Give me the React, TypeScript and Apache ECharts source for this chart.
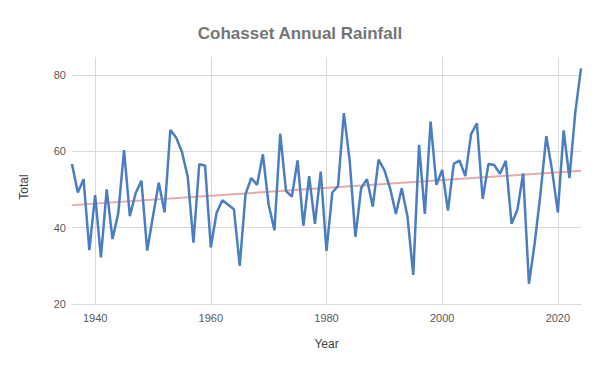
import React, { useEffect, useRef } from "react";
import * as echarts from "echarts";

const years: string[] = [];
for (let y = 1936; y <= 2024; y++) years.push(String(y));

const totals: number[] = [
  56.7, 49.2, 52.7, 34.1, 48.5, 32.2, 50.0, 37.0, 43.8, 60.3,
  43.0, 49.0, 52.3, 34.0, 43.0, 51.8, 44.0, 65.6, 63.6, 59.9,
  53.4, 36.1, 56.6, 56.3, 34.8, 43.9, 47.2, 46.0, 44.8, 30.0,
  48.8, 53.0, 51.2, 59.2, 46.0, 39.3, 64.6, 49.6, 48.1, 57.6,
  40.5, 53.5, 41.0, 54.7, 33.9, 49.2, 50.9, 70.0, 57.7, 37.6,
  50.4, 52.7, 45.5, 57.8, 55.1, 50.3, 43.6, 50.3, 42.9, 27.6,
  61.7, 43.6, 67.8, 51.2, 55.1, 44.5, 56.7, 57.6, 53.5, 64.5,
  67.3, 47.5, 56.7, 56.4, 54.1, 57.5, 41.0, 44.7, 54.2, 25.3,
  36.0, 49.0, 64.0, 55.0, 44.0, 65.5, 53.0, 70.0, 81.7,
];

const trendStart = 45.9;
const trendEnd = 54.9;
const trend: (number | null)[] = years.map((_, i) =>
  i === 0 ? trendStart : i === years.length - 1 ? trendEnd : null
);

const yTicks = [20, 40, 60, 80];

export default function App() {
  const ref = useRef<HTMLDivElement>(null);
  useEffect(() => {
    if (!ref.current) return;
    const chart = echarts.init(ref.current, undefined, { renderer: "svg" });
    const font = "'Liberation Sans', Arial, sans-serif";
    chart.setOption({
      animation: false,
      title: {
        text: "Cohasset Annual Rainfall",
        left: "center",
        top: 20,
        textStyle: { fontFamily: font, fontSize: 17, fontWeight: "bold", color: "#757575" },
      },
      grid: { left: 72, right: 19, top: 57, bottom: 67 },
      xAxis: {
        type: "category",
        data: years,
        boundaryGap: false,
        name: "Year",
        nameLocation: "middle",
        nameGap: 34,
        nameTextStyle: { fontFamily: font, fontSize: 12, color: "#404040" },
        axisLine: { show: true, lineStyle: { color: "#d9d9d9", width: 1 } },
        axisTick: { show: false },
        axisLabel: {
          interval: (_i: number, v: string) => Number(v) % 20 === 0,
          margin: 8,
          fontFamily: font,
          fontSize: 11,
          color: "#595959",
        },
        splitLine: {
          show: true,
          interval: (_i: number, v: string) => Number(v) % 20 === 0,
          lineStyle: { color: "#d9d9d9", width: 1 },
        },
      },
      yAxis: {
        type: "value",
        min: yTicks[0],
        max: 84.7,
        interval: 20,
        axisLine: { show: false },
        axisTick: { show: false },
        axisLabel: {
          showMaxLabel: false,
          margin: 6,
          fontFamily: font,
          fontSize: 11,
          color: "#595959",
          formatter: (v: number) => (yTicks.includes(v) ? String(v) : ""),
        },
        splitLine: { show: true, showMaxLine: false, lineStyle: { color: "#d9d9d9", width: 1 } },
      },
      graphic: [
        {
          type: "text",
          x: 24,
          y: 187,
          rotation: Math.PI / 2,
          style: {
            text: "Total",
            fontFamily: font,
            fontSize: 12,
            fill: "#404040",
            align: "center",
            verticalAlign: "middle",
          },
        },
      ],
      series: [
        {
          type: "line",
          data: trend,
          connectNulls: true,
          symbol: "none",
          lineStyle: { color: "#E9A9A9", width: 2 },
          z: 2,
        },
        {
          type: "line",
          data: totals,
          symbol: "none",
          lineStyle: { color: "#4A7EC0", width: 2.5 },
          z: 3,
        },
      ],
    });
    return () => chart.dispose();
  }, []);
  return <div ref={ref} style={{ width: 600, height: 371, margin: -8 }} />;
}
